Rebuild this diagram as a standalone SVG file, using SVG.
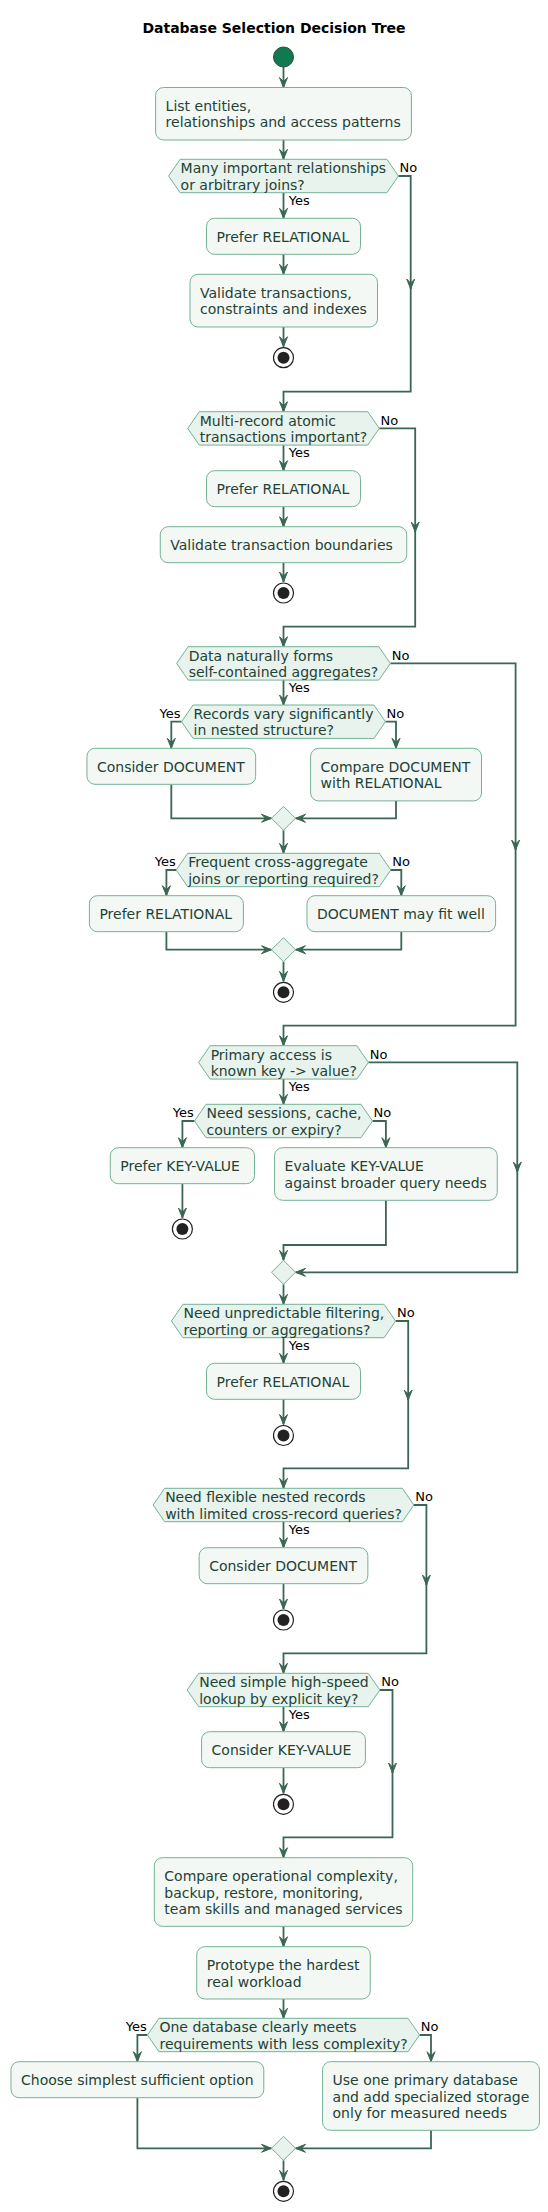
<svg xmlns="http://www.w3.org/2000/svg" width="548" height="2212" viewBox="0 0 548 2212">
<style>
text{font-family:"DejaVu Sans","Noto Sans",sans-serif}
.title{font-size:14px;font-weight:bold;fill:#000}
.t{font-size:14px;fill:#234236}
.lbl{font-size:13px;fill:#000}
.box{fill:#F3F8F5;stroke:#73B295;stroke-width:1}
.hex{fill:#E7F3EC;stroke:#73B295;stroke-width:1}
.c{fill:none;stroke:#3B6653;stroke-width:1.8;marker-end:url(#ah)}
.cn{fill:none;stroke:#3B6653;stroke-width:1.8}
.endo{fill:#fff;stroke:#222;stroke-width:1.2}
.endi{fill:#222}
</style>
<defs>
<marker id="ah" markerUnits="userSpaceOnUse" markerWidth="12" markerHeight="10" viewBox="0 0 12 10" refX="11" refY="5" orient="auto">
<path d="M1,1 L11,5 L1,9 L5,5 Z" fill="#3B6653" stroke="#3B6653" stroke-width="1"/>
</marker>
</defs>
<rect width="548" height="2212" fill="#fff"/>
<text class="title" x="274" y="33" text-anchor="middle">Database Selection Decision Tree</text>

<g id="connectors">
<path class="c" d="M283.5,67 V87.5"/>
<path class="c" d="M283.5,140 V159.3"/>
<path class="c" d="M283.5,192.7 V218.3"/>
<path class="c" d="M283.5,254.3 V274.3"/>
<path class="c" d="M283.5,327 V346.7"/>
<path class="c" d="M398.4,176 H410.7 V289"/>
<path class="c" d="M410.7,287 V391.7 H283.5 V411.7"/>
<path class="c" d="M283.5,445.1 V470.7"/>
<path class="c" d="M283.5,506.7 V526.7"/>
<path class="c" d="M283.5,562.7 V582"/>
<path class="c" d="M379.25,428.4 H415.2 V532"/>
<path class="c" d="M415.2,530 V626.7 H283.5 V646.7"/>
<path class="c" d="M283.5,680.1 V705"/>
<path class="c" d="M181.55,721.7 H171.3 V748.3"/>
<path class="c" d="M385.45,721.7 H396 V748.3"/>
<path class="c" d="M171.3,784.3 V818.3 H271.5"/>
<path class="c" d="M396,800.9 V818.3 H295.5"/>
<path class="c" d="M283.5,830.3 V853.3"/>
<path class="c" d="M176.2,870 H166.4 V895.7"/>
<path class="c" d="M390.8,870 H401.3 V895.7"/>
<path class="c" d="M166.4,931.7 V949.7 H271.5"/>
<path class="c" d="M401.3,931.7 V949.7 H295.5"/>
<path class="c" d="M283.5,961.7 V981.3"/>
<path class="c" d="M390.35,663.4 H515.6 V850"/>
<path class="c" d="M515.6,848 V1025.7 H283.5 V1045.7"/>
<path class="c" d="M283.5,1079.1 V1104.3"/>
<path class="c" d="M194.5,1121 H182.4 V1147.7"/>
<path class="c" d="M372.5,1121 H385.9 V1147.7"/>
<path class="c" d="M182.4,1183.7 V1218"/>
<path class="c" d="M385.9,1200.3 V1245 H283.5 V1260.3"/>
<path class="c" d="M368.35,1062.4 H517.3 V1172"/>
<path class="c" d="M517.3,1170 V1272.3 H295.5"/>
<path class="c" d="M283.5,1284.3 V1304.3"/>
<path class="c" d="M283.5,1337.7 V1363.3"/>
<path class="c" d="M283.5,1399.3 V1424.5"/>
<path class="c" d="M395.55,1321 H408.2 V1400"/>
<path class="c" d="M408.2,1398 V1468.3 H283.5 V1488.3"/>
<path class="c" d="M283.5,1521.7 V1547.7"/>
<path class="c" d="M283.5,1583.7 V1609"/>
<path class="c" d="M413.85,1505 H426.4 V1585"/>
<path class="c" d="M426.4,1583 V1653.3 H283.5 V1673.3"/>
<path class="c" d="M283.5,1706.7 V1731.7"/>
<path class="c" d="M283.5,1767.7 V1793.3"/>
<path class="c" d="M379.8,1690 H392.5 V1773"/>
<path class="c" d="M392.5,1771 V1837.3 H283.5 V1857.7"/>
<path class="c" d="M283.5,1926.3 V1946.7"/>
<path class="c" d="M283.5,1999 V2018.3"/>
<path class="c" d="M147.45,2035 H137.4 V2061.7"/>
<path class="c" d="M419.55,2035 H431 V2061.7"/>
<path class="c" d="M137.4,2097.7 V2148.3 H271.5"/>
<path class="c" d="M431,2130.3 V2148.3 H295.5"/>
<path class="c" d="M283.5,2160.3 V2180.3"/>
<g id="labels">
<text class="lbl" x="399.5" y="172.3">No</text>
<text class="lbl" x="288.7" y="204.5">Yes</text>
<text class="lbl" x="380.5" y="424.7">No</text>
<text class="lbl" x="288.7" y="456.9">Yes</text>
<text class="lbl" x="391.8" y="659.7">No</text>
<text class="lbl" x="288.7" y="691.9">Yes</text>
<text class="lbl" x="180.5" y="718" text-anchor="end">Yes</text>
<text class="lbl" x="386.5" y="718">No</text>
<text class="lbl" x="175.7" y="866.3" text-anchor="end">Yes</text>
<text class="lbl" x="392.3" y="866.3">No</text>
<text class="lbl" x="369.8" y="1058.7">No</text>
<text class="lbl" x="288.7" y="1090.9">Yes</text>
<text class="lbl" x="193.7" y="1117.3" text-anchor="end">Yes</text>
<text class="lbl" x="373.5" y="1117.3">No</text>
<text class="lbl" x="397" y="1317.3">No</text>
<text class="lbl" x="288.7" y="1349.5">Yes</text>
<text class="lbl" x="415.3" y="1501.3">No</text>
<text class="lbl" x="288.7" y="1533.5">Yes</text>
<text class="lbl" x="381.3" y="1686.3">No</text>
<text class="lbl" x="288.7" y="1718.5">Yes</text>
<text class="lbl" x="146.7" y="2031.3" text-anchor="end">Yes</text>
<text class="lbl" x="420.8" y="2031.3">No</text>
</g>
</g>

<g id="start"><circle cx="283.5" cy="57" r="10" fill="#0F7A52" stroke="#2D4B3E" stroke-width="1"/></g>

<g id="n1"><rect class="box" x="155.6" y="87.5" width="255.8" height="52.5" rx="8"/>
<text class="t" x="165.6" y="111">List entities,</text><text class="t" x="165.6" y="127.3">relationships and access patterns</text></g>

<g id="d1"><polygon class="hex" points="168.6,176 180.1,159.3 386.9,159.3 398.4,176 386.9,192.7 180.1,192.7"/>
<text class="t" x="180.6" y="173.3">Many important relationships</text><text class="t" x="180.6" y="189.6">or arbitrary joins?</text></g>

<g id="n2"><rect class="box" x="206.5" y="218.3" width="154" height="36" rx="8"/>
<text class="t" x="216.5" y="241.9">Prefer RELATIONAL</text></g>

<g id="n3"><rect class="box" x="190" y="274.3" width="187.5" height="52.7" rx="8"/>
<text class="t" x="200" y="297.8">Validate transactions,</text><text class="t" x="200" y="314.1">constraints and indexes</text></g>

<g id="e1"><circle class="endo" cx="283.5" cy="357.7" r="10"/><circle class="endi" cx="283.5" cy="357.7" r="6"/></g>

<g id="d2"><polygon class="hex" points="187.75,428.4 199.25,411.7 367.75,411.7 379.25,428.4 367.75,445.1 199.25,445.1"/>
<text class="t" x="199.75" y="425.7">Multi-record atomic</text><text class="t" x="199.75" y="442">transactions important?</text></g>

<g id="n4"><rect class="box" x="206.5" y="470.7" width="154" height="36" rx="8"/>
<text class="t" x="216.5" y="494.3">Prefer RELATIONAL</text></g>

<g id="n5"><rect class="box" x="160.25" y="526.7" width="246.5" height="36" rx="8"/>
<text class="t" x="170.25" y="550.3">Validate transaction boundaries</text></g>

<g id="e2"><circle class="endo" cx="283.5" cy="593" r="10"/><circle class="endi" cx="283.5" cy="593" r="6"/></g>

<g id="d3"><polygon class="hex" points="176.65,663.4 188.15,646.7 378.85,646.7 390.35,663.4 378.85,680.1 188.15,680.1"/>
<text class="t" x="188.65" y="660.7">Data naturally forms</text><text class="t" x="188.65" y="677">self-contained aggregates?</text></g>

<g id="d4"><polygon class="hex" points="181.55,721.7 193.05,705 373.95,705 385.45,721.7 373.95,738.4 193.05,738.4"/>
<text class="t" x="193.55" y="719">Records vary significantly</text><text class="t" x="193.55" y="735.3">in nested structure?</text></g>

<g id="n6"><rect class="box" x="86.95" y="748.3" width="168.7" height="36" rx="8"/>
<text class="t" x="96.95" y="771.9">Consider DOCUMENT</text></g>

<g id="n7"><rect class="box" x="310.6" y="748.3" width="170.9" height="52.6" rx="8"/>
<text class="t" x="320.6" y="771.8">Compare DOCUMENT</text><text class="t" x="320.6" y="788.1">with RELATIONAL</text></g>

<g id="m1"><polygon class="hex" points="271.5,818.3 283.5,806.3 295.5,818.3 283.5,830.3"/></g>

<g id="d5"><polygon class="hex" points="176.2,870 187.7,853.3 379.3,853.3 390.8,870 379.3,886.7 187.7,886.7"/>
<text class="t" x="188.2" y="867.3">Frequent cross-aggregate</text><text class="t" x="188.2" y="883.6">joins or reporting required?</text></g>

<g id="n8"><rect class="box" x="89.4" y="895.7" width="154" height="36" rx="8"/>
<text class="t" x="99.4" y="919.3">Prefer RELATIONAL</text></g>

<g id="n9"><rect class="box" x="307" y="895.7" width="188.6" height="36" rx="8"/>
<text class="t" x="317" y="919.3">DOCUMENT may fit well</text></g>

<g id="m2"><polygon class="hex" points="271.5,949.7 283.5,937.7 295.5,949.7 283.5,961.7"/></g>

<g id="e3"><circle class="endo" cx="283.5" cy="992.3" r="10"/><circle class="endi" cx="283.5" cy="992.3" r="6"/></g>

<g id="d6"><polygon class="hex" points="198.65,1062.4 210.15,1045.7 356.85,1045.7 368.35,1062.4 356.85,1079.1 210.15,1079.1"/>
<text class="t" x="210.65" y="1059.7">Primary access is</text><text class="t" x="210.65" y="1076">known key -&gt; value?</text></g>

<g id="d7"><polygon class="hex" points="194.5,1121 206,1104.3 361,1104.3 372.5,1121 361,1137.7 206,1137.7"/>
<text class="t" x="206.5" y="1118.3">Need sessions, cache,</text><text class="t" x="206.5" y="1134.6">counters or expiry?</text></g>

<g id="n10"><rect class="box" x="110.3" y="1147.7" width="144.2" height="36" rx="8"/>
<text class="t" x="120.3" y="1171.3">Prefer KEY-VALUE</text></g>

<g id="e4"><circle class="endo" cx="182.4" cy="1229" r="10"/><circle class="endi" cx="182.4" cy="1229" r="6"/></g>

<g id="n11"><rect class="box" x="274.55" y="1147.7" width="222.7" height="52.6" rx="8"/>
<text class="t" x="284.55" y="1171.2">Evaluate KEY-VALUE</text><text class="t" x="284.55" y="1187.5">against broader query needs</text></g>

<g id="m3"><polygon class="hex" points="271.5,1272.3 283.5,1260.3 295.5,1272.3 283.5,1284.3"/></g>

<g id="d8"><polygon class="hex" points="171.45,1321 182.95,1304.3 384.05,1304.3 395.55,1321 384.05,1337.7 182.95,1337.7"/>
<text class="t" x="183.45" y="1318.3">Need unpredictable filtering,</text><text class="t" x="183.45" y="1334.6">reporting or aggregations?</text></g>

<g id="n12"><rect class="box" x="206.5" y="1363.3" width="154" height="36" rx="8"/>
<text class="t" x="216.5" y="1386.9">Prefer RELATIONAL</text></g>

<g id="e5"><circle class="endo" cx="283.5" cy="1435.5" r="10"/><circle class="endi" cx="283.5" cy="1435.5" r="6"/></g>

<g id="d9"><polygon class="hex" points="153.15,1505 164.65,1488.3 402.35,1488.3 413.85,1505 402.35,1521.7 164.65,1521.7"/>
<text class="t" x="165.15" y="1502.3">Need flexible nested records</text><text class="t" x="165.15" y="1518.6">with limited cross-record queries?</text></g>

<g id="n13"><rect class="box" x="199.15" y="1547.7" width="168.7" height="36" rx="8"/>
<text class="t" x="209.15" y="1571.3">Consider DOCUMENT</text></g>

<g id="e6"><circle class="endo" cx="283.5" cy="1620" r="10"/><circle class="endi" cx="283.5" cy="1620" r="6"/></g>

<g id="d10"><polygon class="hex" points="187.2,1690 198.7,1673.3 368.3,1673.3 379.8,1690 368.3,1706.7 198.7,1706.7"/>
<text class="t" x="199.2" y="1687.3">Need simple high-speed</text><text class="t" x="199.2" y="1703.6">lookup by explicit key?</text></g>

<g id="n14"><rect class="box" x="201.6" y="1731.7" width="163.8" height="36" rx="8"/>
<text class="t" x="211.6" y="1755.3">Consider KEY-VALUE</text></g>

<g id="e7"><circle class="endo" cx="283.5" cy="1804.3" r="10"/><circle class="endi" cx="283.5" cy="1804.3" r="6"/></g>

<g id="n15"><rect class="box" x="154.3" y="1857.7" width="258.4" height="68.6" rx="8"/>
<text class="t" x="164.3" y="1881.2">Compare operational complexity,</text><text class="t" x="164.3" y="1897.5">backup, restore, monitoring,</text><text class="t" x="164.3" y="1913.8">team skills and managed services</text></g>

<g id="n16"><rect class="box" x="196.75" y="1946.7" width="173.5" height="52.3" rx="8"/>
<text class="t" x="206.75" y="1970.2">Prototype the hardest</text><text class="t" x="206.75" y="1986.5">real workload</text></g>

<g id="d11"><polygon class="hex" points="147.45,2035 158.95,2018.3 408.05,2018.3 419.55,2035 408.05,2051.7 158.95,2051.7"/>
<text class="t" x="159.45" y="2032.3">One database clearly meets</text><text class="t" x="159.45" y="2048.6">requirements with less complexity?</text></g>

<g id="n17"><rect class="box" x="11" y="2061.7" width="252.8" height="36" rx="8"/>
<text class="t" x="21" y="2085.3">Choose simplest sufficient option</text></g>

<g id="n18"><rect class="box" x="322.55" y="2061.7" width="216.9" height="68.6" rx="8"/>
<text class="t" x="332.55" y="2085.2">Use one primary database</text><text class="t" x="332.55" y="2101.5">and add specialized storage</text><text class="t" x="332.55" y="2117.8">only for measured needs</text></g>

<g id="m4"><polygon class="hex" points="271.5,2148.3 283.5,2136.3 295.5,2148.3 283.5,2160.3"/></g>

<g id="e8"><circle class="endo" cx="283.5" cy="2191.3" r="10"/><circle class="endi" cx="283.5" cy="2191.3" r="6"/></g>
</svg>
